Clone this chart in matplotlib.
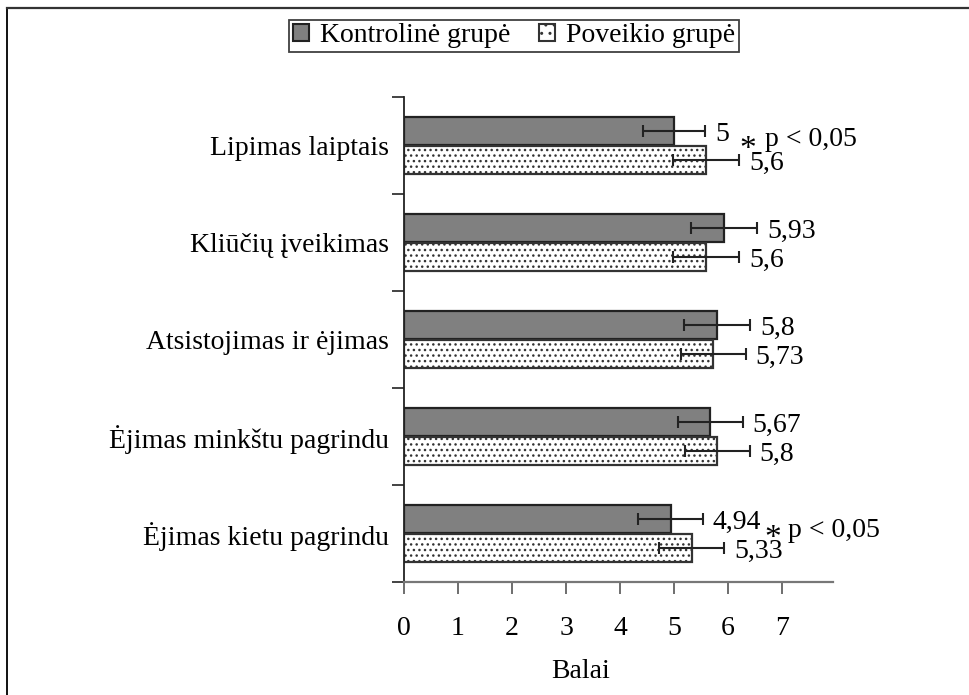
import matplotlib
matplotlib.use("Agg")
import matplotlib.pyplot as plt
from matplotlib.lines import Line2D
from matplotlib.patches import Patch
from matplotlib.transforms import ScaledTranslation
import numpy as np

plt.rcParams['font.family'] = ['Liberation Serif', 'DejaVu Serif']
plt.rcParams['hatch.linewidth'] = 1.0

categories = ["Lipimas laiptais", "Kliūčių įveikimas", "Atsistojimas ir ėjimas",
              "Ėjimas minkštu pagrindu", "Ėjimas kietu pagrindu"]
control = [5.0, 5.93, 5.8, 5.67, 4.94]
control_err = [0.58, 0.61, 0.61, 0.6, 0.6]
treatment = [5.6, 5.6, 5.73, 5.8, 5.33]
treatment_err = [0.61, 0.61, 0.6, 0.6, 0.6]
control_labels = ["5", "5,93", "5,8", "5,67", "4,94"]
treatment_labels = ["5,6", "5,6", "5,73", "5,8", "5,33"]
significant = [0, 4]
x_ticks = [0, 1, 2, 3, 4, 5, 6, 7]

W, H = 970, 695
fig = plt.figure(figsize=(W / 100, H / 100), dpi=100)
ax = fig.add_axes([404 / W, 1 - 582 / H, (833 - 404) / W, (582 - 97) / H])

y = np.arange(len(categories))
bh = 0.29
off = 0.148
ax.barh(y - off, control, height=bh, color="#808080", edgecolor="#222222", linewidth=1.6)
ax.barh(y + off, treatment, height=bh, color="white", edgecolor="#333333", linewidth=1.6,
        hatch="...")
err_kw = dict(fmt="none", ecolor="#222222", elinewidth=1.5, capsize=4, capthick=1.5)
ax.errorbar(control, y - off, xerr=control_err, **err_kw)
ax.errorbar(treatment, y + off, xerr=treatment_err, **err_kw)

for i in range(len(categories)):
    ax.annotate(control_labels[i], (control[i] + control_err[i], y[i] - off),
                xytext=(7, -2.5), textcoords="offset points", va="center", ha="left",
                fontsize=20)
    ax.annotate(treatment_labels[i], (treatment[i] + treatment_err[i], y[i] + off),
                xytext=(7, -2.5), textcoords="offset points", va="center", ha="left",
                fontsize=20)

# significance markers: (asterisk x, asterisk y offset, text x, text y offset)
sig_pos = {0: (6.37, 0.047, 6.685, -0.06), 4: (6.83, 0.057, 7.11, -0.03)}
for i in significant:
    xs, ds, xt, dt = sig_pos[i]
    ax.text(xs, y[i] + ds, "*", ha="center", va="center", fontsize=24)
    ax.text(xt, y[i] + dt, "p < 0,05", ha="left", va="center", fontsize=20)

ax.set_xlim(0, 7.944)
ax.set_ylim(len(categories) - 0.5, -0.5)
ax.set_xticks(x_ticks)
ax.set_xticklabels([str(t) for t in x_ticks], fontsize=20)
ax.set_yticks(y)
ax.set_yticklabels(categories, fontsize=20)
shift = ScaledTranslation(0, -3 / 100, fig.dpi_scale_trans)
for lab in ax.get_yticklabels():
    lab.set_transform(lab.get_transform() + shift)
ax.set_yticks(np.arange(-0.5, len(categories), 1.0), minor=True)
ax.tick_params(axis="y", which="major", length=0, pad=11)
ax.tick_params(axis="y", which="minor", length=9, width=1.2, color="#222222")
ax.tick_params(axis="x", length=8.5, width=1.2, color="#555555", pad=16)
for s in ["top", "right"]:
    ax.spines[s].set_visible(False)
ax.spines["left"].set_color("#222222")
ax.spines["left"].set_linewidth(1.3)
ax.spines["bottom"].set_color("#777777")
ax.spines["bottom"].set_linewidth(1.6)

fig.text(581 / W, 1 - 671 / H, "Balai", ha="center", va="center", fontsize=20)

handles = [Patch(facecolor="#808080", edgecolor="#222222", linewidth=1.5),
           Patch(facecolor="white", edgecolor="#333333", linewidth=1.5, hatch="..")]
leg = fig.legend(handles, ["Kontrolinė grupė", "Poveikio grupė"], loc="upper center",
                 bbox_to_anchor=(514 / W, 1 - 20 / H), ncol=2, fontsize=20,
                 frameon=True, fancybox=False, shadow=False, handlelength=0.6,
                 handleheight=0.6, handletextpad=0.4, columnspacing=1.0,
                 borderpad=0.12, borderaxespad=0)
leg.get_frame().set_edgecolor("#111111")
leg.get_frame().set_linewidth(1.3)

# outer frame lines along left and top edges
fig.add_artist(Line2D([7.5 / W, 7.5 / W], [0, 1 - 7.5 / H], transform=fig.transFigure,
                      color="#111111", linewidth=1.4))
fig.add_artist(Line2D([7.5 / W, 1], [1 - 7.5 / H, 1 - 7.5 / H], transform=fig.transFigure,
                      color="#333333", linewidth=1.6))

fig.savefig("out.png", dpi=100)
